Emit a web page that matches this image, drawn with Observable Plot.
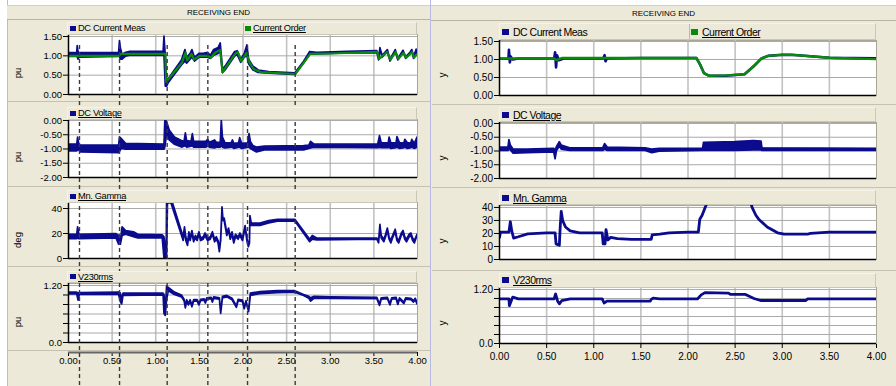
<!DOCTYPE html>
<html><head><meta charset="utf-8">
<script src="https://cdn.jsdelivr.net/npm/d3@7"></script>
<script src="https://cdn.jsdelivr.net/npm/@observablehq/plot@0.6"></script>
<style>
body{margin:0;background:#fff;width:896px;height:386px;overflow:hidden;font-family:"Liberation Sans",Arial,sans-serif;color:#000;}
#root{position:relative;width:896px;height:386px;overflow:hidden;}
.panel{position:absolute;background:#ece9d8;}
.title{position:absolute;font-size:8px;text-align:center;box-sizing:border-box;border-top:1px solid #d6d2c2;border-bottom:1px solid #b9b5a4;background:#ece9d8;display:flex;align-items:center;justify-content:center;}
.sep{position:absolute;height:0;border-top:1px solid #c6c2b1;}
.vline{position:absolute;width:0;border-left:1px solid #b9b9e6;}
.legend{position:absolute;box-sizing:border-box;border:1px solid #cbc7b7;border-top-color:#f6f4ea;border-left-color:#f6f4ea;background:#ece9d8;}
.item{position:absolute;top:0;bottom:0;display:flex;align-items:center;white-space:nowrap;}
.divider{position:absolute;top:0;bottom:0;width:0;border-left:1px solid #bdb9a8;}
.sw{display:inline-block;}
.u{text-decoration:underline;}
.ylab{position:absolute;transform:translate(-50%,-50%) rotate(-90deg);white-space:nowrap;}
</style></head>
<body><div id="root"></div>
<script>
// ---------- DATA ----------
const xTicks = [0, 0.5, 1, 1.5, 2, 2.5, 3, 3.5, 4];
const xGrid = [0.5, 1, 1.5, 2, 2.5, 3, 3.5];
const dashTimes = [0.126, 0.585, 1.131, 1.597, 2.052, 2.598];
const ticksCurrent = [0, 0.5, 1, 1.5];
const ticksVoltage = [0, -0.5, -1, -1.5, -2];
const ticksGammaL = [0, 20, 40];
const ticksGammaR = [0, 10, 20, 30, 40];
const ticksV230 = [0, 0.2, 0.4, 0.6, 0.8, 1.0, 1.2];
const panelTitle = "RECEIVING END";

// Left panel: [time, low, high] envelopes of the noisy traces
const leftCurrentMeas = [
 [0,0.97,1.07],[0.10,0.97,1.07],[0.105,0.97,1.25],[0.115,0.9,1.1],[0.125,0.95,1.07],
 [0.58,0.97,1.08],[0.59,0.97,1.38],[0.60,0.9,1.2],[0.62,0.9,1.02],[0.66,0.98,1.08],[0.70,1.0,1.1],
 [1.09,1.0,1.1],[1.10,1.0,1.5],[1.115,0.2,1.0],[1.13,0.2,0.38],[1.15,0.3,0.4],[1.30,0.75,0.88],
 [1.34,0.85,1.15],[1.36,0.8,0.95],[1.40,0.9,1.05],[1.42,0.95,1.15],[1.45,0.85,0.95],[1.50,0.95,1.05],
 [1.55,0.95,1.05],[1.60,0.95,1.08],[1.63,0.92,1.0],[1.67,1.0,1.15],[1.72,1.05,1.2],[1.745,1.1,1.32],
 [1.77,0.55,0.65],[1.80,0.62,0.72],[1.91,0.98,1.1],[1.94,1.02,1.12],[1.98,0.82,0.9],[2.02,0.95,1.05],
 [2.05,1.0,1.27],[2.07,0.78,0.9],[2.12,0.62,0.72],[2.18,0.56,0.62],[2.30,0.54,0.58],[2.60,0.51,0.55],
 [2.70,0.8,0.85],[2.77,1.03,1.1],[2.85,1.04,1.08],[3.20,1.06,1.1],[3.54,1.07,1.12],[3.56,0.88,0.92],
 [3.575,1.17,1.2],[3.60,0.95,1.0],[3.64,1.05,1.1],[3.66,1.12,1.15],[3.69,0.85,0.9],[3.73,1.02,1.06],
 [3.75,1.12,1.15],[3.78,0.88,0.92],[3.82,1.02,1.06],[3.84,1.1,1.13],[3.87,0.92,0.96],[3.92,1.05,1.08],
 [3.94,1.12,1.15],[3.96,0.92,0.96],[3.99,1.12,1.16],[4.0,1.0,1.05]
];
const leftCurrentOrder = [
 [0,1.0],[0.58,1.0],[0.6,1.05],[1.11,1.05],[1.12,0.33],[1.30,0.82],[1.34,1.08],[1.36,0.88],[1.41,1.05],
 [1.44,0.9],[1.50,1.0],[1.60,1.0],[1.63,0.95],[1.68,1.08],[1.74,1.15],[1.765,0.58],[1.91,1.05],[1.94,1.1],
 [1.98,0.86],[2.04,1.08],[2.07,0.85],[2.12,0.66],[2.2,0.58],[2.6,0.53],[2.77,1.05],[3.0,1.06],[3.54,1.1],
 [3.56,0.92],[3.65,1.1],[3.69,0.9],[3.75,1.1],[3.78,0.92],[3.84,1.08],[3.87,0.95],[3.94,1.1],[3.96,0.95],[4.0,1.05]
];
const leftDcVoltage = [
 [0,-1.08,-0.85],[0.10,-1.08,-0.85],[0.11,-1.05,-0.6],[0.125,-1.05,-0.85],[0.14,-1.12,-0.88],
 [0.58,-1.15,-0.88],[0.59,-1.1,-0.6],[0.61,-1.0,-0.65],[0.66,-1.02,-0.82],[1.10,-1.02,-0.85],
 [1.11,-0.95,0.0],[1.13,-0.5,-0.05],[1.16,-0.7,-0.35],[1.22,-0.85,-0.6],[1.30,-0.95,-0.72],
 [1.33,-0.92,-0.75],[1.345,-0.9,-0.45],[1.36,-0.95,-0.72],[1.41,-0.92,-0.75],[1.425,-0.9,-0.48],
 [1.44,-0.95,-0.75],[1.58,-0.95,-0.75],[1.60,-0.92,-0.68],[1.62,-0.95,-0.78],[1.68,-0.98,-0.7],
 [1.70,-0.95,-0.78],[1.745,-0.95,-0.78],[1.757,-0.9,0.0],[1.77,-0.95,-0.6],[1.80,-0.98,-0.8],
 [1.87,-0.95,-0.8],[1.885,-0.95,-0.7],[1.90,-1.0,-0.82],[1.955,-0.95,-0.8],[1.968,-0.95,-0.62],
 [1.99,-1.0,-0.82],[2.06,-0.95,-0.8],[2.075,-0.95,-0.48],[2.09,-1.0,-0.75],[2.12,-1.05,-0.9],
 [2.16,-1.12,-0.95],[2.25,-1.05,-0.92],[2.70,-1.05,-0.9],[2.76,-1.0,-0.88],[2.78,-0.98,-0.75],
 [2.82,-0.95,-0.85],[3.55,-0.97,-0.84],[3.57,-0.95,-0.55],[3.59,-0.97,-0.8],[3.67,-0.97,-0.8],
 [3.68,-0.95,-0.6],[3.70,-1.0,-0.8],[3.76,-0.97,-0.8],[3.77,-0.95,-0.58],[3.80,-1.0,-0.8],
 [3.85,-0.97,-0.8],[3.86,-0.95,-0.68],[3.89,-1.0,-0.8],[3.93,-0.97,-0.8],[3.94,-0.95,-0.68],
 [3.97,-1.0,-0.82],[4.0,-0.95,-0.6]
];
const leftMinGamma = [
 [0,15.5,19],[0.10,15.5,19],[0.11,16,25],[0.125,15.5,19],[0.55,16,19.5],[0.58,11,18],[0.60,11,14],
 [0.62,18,25],[0.66,19,22],[0.75,17,21],[0.80,16,19],[1.08,16,18.5],[1.10,0,17],[1.125,0,3],[1.13,0,48],
 [1.14,44,48],[1.18,44,48],[1.32,14,17],[1.335,22,25],[1.35,14,17],[1.37,10,12],[1.385,18,21],[1.40,14,16],
 [1.42,20,22],[1.44,13,15],[1.46,16,18],[1.48,14,16],[1.50,19,21],[1.52,14,16],[1.55,15,17],[1.57,18,20],
 [1.60,14,16],[1.63,15,17],[1.655,19,21],[1.68,13,15],[1.70,15,17],[1.72,12,14],[1.735,5,7],[1.75,14,16],
 [1.765,38,41],[1.775,30,32],[1.79,30,32],[1.80,26,28],[1.82,18,20],[1.84,22,24],[1.86,15,17],[1.88,19,21],
 [1.90,12,14],[1.92,17,19],[1.95,15,17],[1.97,18,20],[2.0,14,16],[2.03,24,26],[2.05,14,16],[2.067,9,11],
 [2.08,12,14],[2.085,32,34],[2.10,26,28],[2.20,26,28],[2.30,28,30],[2.40,29.5,31],[2.60,29.5,31],
 [2.77,13,15],[2.80,15,18],[2.85,14.5,16],[3.54,15,16],[3.56,12,14],[3.575,25,27],[3.59,16,18],[3.62,13,15],
 [3.64,17,19],[3.66,22,24],[3.68,15,17],[3.70,12,14],[3.72,16,18],[3.75,21,23],[3.77,14,16],[3.79,12,14],
 [3.82,18,20],[3.84,20,22],[3.86,15,17],[3.88,13,15],[3.91,17,19],[3.93,18,20],[3.95,14,16],[3.97,12,14],[4.0,18,19]
];
const leftV230 = [
 [0,1.01,1.05],[0.10,1.01,1.05],[0.115,0.88,1.03],[0.13,1.0,1.04],[0.58,1.0,1.05],[0.60,0.85,1.03],
 [0.615,0.8,0.9],[0.63,0.98,1.03],[1.09,0.99,1.03],[1.10,0.6,1.0],[1.115,0.56,0.7],[1.13,0.9,1.18],
 [1.15,1.08,1.15],[1.22,1.0,1.05],[1.30,0.95,0.99],[1.33,0.87,0.9],[1.345,0.72,0.76],[1.36,0.85,0.89],
 [1.38,0.78,0.81],[1.40,0.86,0.89],[1.42,0.74,0.78],[1.44,0.86,0.89],[1.48,0.86,0.89],[1.50,0.78,0.81],
 [1.52,0.87,0.9],[1.56,0.88,0.91],[1.575,0.82,0.85],[1.59,0.9,0.93],[1.64,0.91,0.94],[1.655,0.84,0.86],
 [1.67,0.92,0.95],[1.735,0.9,0.93],[1.75,0.6,0.63],[1.77,0.93,0.96],[1.82,0.95,0.98],[1.88,0.89,0.92],
 [1.93,0.73,0.76],[1.95,0.87,0.9],[2.0,0.85,0.88],[2.02,0.7,0.73],[2.04,0.84,0.87],[2.07,0.64,0.67],
 [2.09,0.98,1.03],[2.2,1.02,1.06],[2.4,1.04,1.08],[2.6,1.05,1.08],[2.7,0.98,1.0],[2.76,0.92,0.96],
 [2.78,0.86,0.93],[2.82,0.92,0.96],[3.0,0.92,0.95],[3.54,0.91,0.94],[3.57,0.77,0.8],[3.59,0.9,0.93],
 [3.66,0.91,0.94],[3.69,0.78,0.81],[3.71,0.9,0.93],[3.76,0.91,0.94],[3.78,0.79,0.82],[3.80,0.9,0.93],
 [3.85,0.81,0.84],[3.87,0.9,0.93],[3.93,0.89,0.92],[3.96,0.84,0.87],[3.98,0.89,0.92],[4.0,0.8,0.83]
];

// Right panel
const rightCurrentMeas = [
 [0,1.02],[0.095,1.02],[0.10,1.27],[0.11,0.92],[0.12,1.08],[0.14,1.0],[0.2,1.03],[0.58,1.03],[0.59,1.2],
 [0.60,0.78],[0.61,1.12],[0.63,0.98],[0.68,1.03],[1.10,1.03],[1.115,1.12],[1.125,0.95],[1.14,1.03],
 [1.5,1.04],[2.09,1.04],[2.13,0.85],[2.17,0.62],[2.22,0.55],[2.4,0.55],[2.6,0.59],[2.7,0.82],[2.78,1.03],
 [2.85,1.1],[3.0,1.13],[3.1,1.13],[3.3,1.09],[3.5,1.05],[4.0,1.03]
];
const rightCurrentOrder = [
 [0,1.03],[0.58,1.03],[0.60,0.98],[0.66,1.04],[2.09,1.04],[2.13,0.85],[2.17,0.62],[2.22,0.55],[2.4,0.56],
 [2.6,0.59],[2.7,0.82],[2.78,1.03],[2.85,1.1],[3.0,1.13],[3.1,1.13],[3.3,1.09],[3.5,1.05],[4.0,1.01]
];
const rightDcVoltage = [
 [0,-1.0,-0.88],[0.095,-1.0,-0.88],[0.105,-0.95,-0.6],[0.12,-0.98,-0.8],[0.15,-1.1,-0.95],[0.3,-1.08,-0.95],
 [0.58,-1.05,-0.92],[0.595,-1.3,-1.0],[0.61,-1.0,-0.85],[0.64,-0.85,-0.68],[0.66,-0.95,-0.8],[0.75,-1.0,-0.9],
 [1.10,-1.0,-0.9],[1.12,-0.95,-0.75],[1.15,-1.0,-0.88],[1.55,-1.0,-0.9],[1.62,-1.08,-0.95],[1.70,-1.02,-0.92],
 [2.16,-1.0,-0.92],[2.17,-1.0,-0.7],[2.50,-1.0,-0.68],[2.70,-0.98,-0.64],[2.78,-0.98,-0.66],[2.79,-1.0,-0.9],
 [4.0,-1.0,-0.92]
];
const rightMinGamma = [
 [0,17],[0.01,21],[0.10,21],[0.115,29],[0.13,22],[0.15,16.5],[0.2,17.5],[0.3,19.7],[0.5,20.5],[0.59,20.5],
 [0.60,12],[0.635,11],[0.645,26],[0.655,37],[0.67,30],[0.70,25],[0.75,22],[0.85,20.5],[1.09,20.5],[1.10,12],
 [1.12,12],[1.13,23],[1.15,15],[1.18,17],[1.25,16],[1.4,15.5],[1.61,15.5],[1.62,19],[1.7,19.5],[1.8,20.5],
 [2.0,21],[2.11,21],[2.125,31],[2.15,34],[2.19,41.5],[2.22,48],[2.65,48],[2.68,40],[2.72,34],[2.75,31],
 [2.84,25],[2.95,20.5],[3.02,19.5],[3.27,19.5],[3.3,20],[3.5,21],[4.0,21]
];
const rightV230 = [
 [0,0.99],[0.10,0.99],[0.105,0.84],[0.12,0.92],[0.14,1.03],[0.2,0.99],[0.58,0.99],[0.595,1.1],[0.615,0.95],
 [0.635,0.88],[0.66,0.95],[0.75,0.99],[1.09,0.99],[1.11,0.9],[1.14,0.94],[1.6,0.94],[1.61,0.98],[1.63,1.01],
 [1.7,0.99],[2.1,0.99],[2.14,1.08],[2.18,1.13],[2.43,1.12],[2.45,1.09],[2.61,1.09],[2.7,1.0],[2.77,0.955],
 [3.25,0.955],[3.27,0.99],[4.0,0.99]
];

// ---------- RENDER ----------
const root = document.getElementById("root");
const navy = "#0b0b8e", green = "#0a8a0a";
const FONT = "'Liberation Sans', Arial, sans-serif";
const f2 = d => d.toFixed(2);
const fInt = d => String(d);
const fV230 = d => d === 0 ? "0.0" : (d === 1.2 ? "1.20" : "");

function div(cls, css, html) {
  const e = document.createElement("div");
  e.className = cls; Object.assign(e.style, css);
  if (html !== undefined) e.innerHTML = html;
  root.append(e); return e;
}
function px(v){ return v + "px"; }

// panels
div("panel", {left: px(7), top: px(5), width: px(423), height: px(381)});
div("panel", {left: px(431), top: px(5), width: px(465), height: px(381)});
div("vline", {left: px(7), top: px(0), height: px(386)});
div("vline", {left: px(430), top: px(0), height: px(386)});
div("title", {left: px(7), top: px(5), width: px(423), height: px(15)}, panelTitle);
div("title", {left: px(431), top: px(5), width: px(465), height: px(16)}, panelTitle);
[101, 186, 266, 350].forEach(y => div("sep", {left: px(8), top: px(y), width: px(422)}));
[104, 187, 270].forEach(y => div("sep", {left: px(432), top: px(y), width: px(464)}));

const L = {left: 7, width: 423, ml: 61, mr: 13, fs: "9.5px"};
const R = {left: 431, width: 465, ml: 68, mr: 20, fs: "10px"};

function area(data){ return Plot.areaY(data, {x: d => d[0], y1: d => d[1], y2: d => d[2], fill: navy, stroke: navy, strokeWidth: 1.7, clip: true}); }
function line(data, color, w){ return Plot.line(data, {x: d => d[0], y: d => d[1], stroke: color, strokeWidth: w, clip: true}); }

function sub(P, o) {
  const svg = Plot.plot({
    width: P.width, height: o.bottom - o.top,
    marginLeft: P.ml, marginRight: P.mr,
    marginTop: o.frameTop - o.top, marginBottom: o.bottom - o.frameBottom,
    style: {background: "transparent", overflow: "visible", fontFamily: FONT, fontSize: o.fs || P.fs, color: "#000"},
    x: o.xaxis
      ? {domain: [0, 4], ticks: xTicks, tickFormat: f2, tickSize: 5, tickPadding: 4, label: null}
      : {domain: [0, 4], axis: null},
    y: {domain: o.domain, ticks: o.ticks, tickFormat: o.fmt, tickSize: 5, tickPadding: 1.5, label: null},
    marks: [
      Plot.frame({fill: "white", stroke: "#a9a698"}),
      Plot.ruleX(xGrid, {stroke: "#c2c2c2", strokeWidth: 1.6}),
      Plot.ruleY(o.ticks, {stroke: "#a9a9a9", strokeWidth: 1}),
      ...o.marks,
      Plot.ruleX([0], {stroke: "#000", strokeWidth: 1.5}),
      Plot.ruleY([o.domain[0]], {stroke: "#000", strokeWidth: 1.5})
    ]
  });
  Object.assign(svg.style, {position: "absolute", left: px(P.left), top: px(o.top)});
  root.append(svg);
}

// left subplots
sub(L, {top: 20, bottom: 101, frameTop: 34, frameBottom: 94, domain: [0, 1.552], ticks: ticksCurrent, fmt: f2,
  marks: [area(leftCurrentMeas), line(leftCurrentOrder, green, 2.2)]});
sub(L, {top: 102, bottom: 186, frameTop: 119, frameBottom: 177, domain: [-2, 0.035], ticks: ticksVoltage, fmt: f2,
  marks: [area(leftDcVoltage)]});
sub(L, {top: 187, bottom: 266, frameTop: 202, frameBottom: 258, domain: [0, 44.8], ticks: ticksGammaL, fmt: fInt,
  marks: [area(leftMinGamma)]});
sub(L, {top: 267, bottom: 350, frameTop: 283, frameBottom: 342, domain: [0, 1.242], ticks: ticksV230, fmt: fV230,
  marks: [area(leftV230)]});

// left x axis strip
{
  const svg = Plot.plot({
    width: L.width, height: 36, marginLeft: L.ml, marginRight: L.mr, marginTop: 0, marginBottom: 34,
    style: {background: "transparent", overflow: "visible", fontFamily: FONT, fontSize: "9.5px", color: "#000"},
    x: {domain: [0, 4], ticks: xTicks, tickFormat: f2, tickSize: 4, tickPadding: 1, label: null},
    y: {domain: [0, 1], axis: null},
    marks: [Plot.ruleY([0], {x1: 0, x2: 4, stroke: "#666", strokeWidth: 2})]
  });
  Object.assign(svg.style, {position: "absolute", left: px(L.left), top: px(350)});
  root.append(svg);
}

// right subplots
sub(R, {top: 21, bottom: 104, frameTop: 40, frameBottom: 95, domain: [0, 1.528], ticks: ticksCurrent, fmt: f2,
  marks: [line(rightCurrentMeas, navy, 2.6), line(rightCurrentOrder, green, 2.4)]});
sub(R, {top: 105, bottom: 187, frameTop: 122, frameBottom: 178, domain: [-2, 0.036], ticks: ticksVoltage, fmt: f2,
  marks: [area(rightDcVoltage)]});
sub(R, {top: 188, bottom: 269, frameTop: 205, frameBottom: 259, domain: [0, 41.5], ticks: ticksGammaR, fmt: fInt,
  marks: [line(rightMinGamma, navy, 2.8)]});
sub(R, {top: 271, bottom: 386, frameTop: 287, frameBottom: 343, domain: [0, 1.244], ticks: ticksV230, fmt: fV230, xaxis: true,
  marks: [line(rightV230, navy, 2.8)]});

// dashed event markers (left panel)
{
  const svg = Plot.plot({
    width: L.width, height: 341, marginLeft: L.ml, marginRight: L.mr, marginTop: 0, marginBottom: 0,
    style: {background: "transparent", overflow: "visible"},
    x: {domain: [0, 4], axis: null}, y: {axis: null},
    marks: [Plot.ruleX(dashTimes, {stroke: "#3a3a3a", strokeWidth: 1.4, strokeDasharray: "4,3"})]
  });
  Object.assign(svg.style, {position: "absolute", left: px(L.left), top: px(45), pointerEvents: "none"});
  root.append(svg);
}

// legends
function legend(x, y, w, h, items, opt) {
  const box = div("legend", {left: px(x), top: px(y), width: px(w), height: px(h)});
  items.forEach(it => {
    if (it.divider) { const d = document.createElement("div"); d.className = "divider"; d.style.left = px(it.at); box.append(d); }
    const e = document.createElement("div");
    e.className = "item";
    Object.assign(e.style, {left: px(it.at + 2), fontSize: opt.fs, letterSpacing: opt.ls});
    e.innerHTML = `<span class="sw" style="width:${opt.sw}px;height:${opt.sh}px;background:${it.color};margin-right:${opt.gap}px"></span><span class="${it.u ? "u" : ""}">${it.label}</span>`;
    box.append(e);
  });
}
const lo = {fs: "9.3px", ls: "-0.35px", sw: 6, sh: 5, gap: 2};
const ro = {fs: "10.5px", ls: "-0.5px", sw: 7, sh: 6, gap: 4};
legend(67, 22, 350, 12.5, [{at: 0, color: navy, label: "DC Current Meas"}, {at: 175, divider: true, color: green, label: "Current Order", u: true}], lo);
legend(67, 107, 350, 12.5, [{at: 0, color: navy, label: "DC Voltage", u: true}], lo);
legend(67, 190, 350, 12.5, [{at: 0, color: navy, label: "Mn. Gamma", u: true}], lo);
legend(67, 270.5, 350, 12.5, [{at: 0, color: navy, label: "V230rms", u: true}], lo);
legend(499, 23, 377, 17, [{at: 0, color: navy, label: "DC Current Meas"}, {at: 189, divider: true, color: green, label: "Current Order", u: true}], ro);
legend(499, 107, 377, 15, [{at: 0, color: navy, label: "DC Voltage", u: true}], ro);
legend(499, 190, 377, 15, [{at: 0, color: navy, label: "Mn. Gamma", u: true}], ro);
legend(499, 273, 377, 14.5, [{at: 0, color: navy, label: "V230rms", u: true}], ro);

// y-axis titles
[[17, 73, "pu"], [17, 157, "pu"], [17, 240, "deg"], [17, 322, "pu"]].forEach(([x, y, t]) =>
  div("ylab", {left: px(x), top: px(y), fontSize: "9.5px"}, t));
[[442, 75], [442, 158], [442, 241], [442, 323]].forEach(([x, y]) =>
  div("ylab", {left: px(x), top: px(y), fontSize: "10px"}, "y"));
</script>
</body></html>
